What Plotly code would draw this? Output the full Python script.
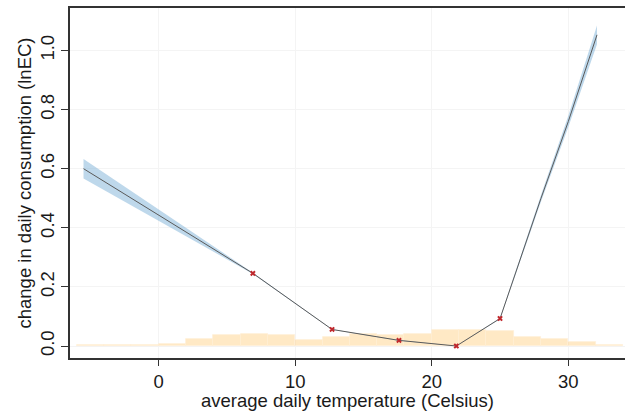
import plotly.graph_objects as go

# Response curve (temperature in Celsius -> change in lnEC)
curve_x = [-5.5, 0.0, 6.9, 12.7, 17.6, 21.8, 25.0, 28.0, 30.0, 32.1]
curve_y = [0.600, 0.443, 0.246, 0.056, 0.019, 0.0, 0.093, 0.50, 0.76, 1.053]
band_lo = [0.567, 0.425, 0.244, 0.055, 0.018, 0.0, 0.091, 0.489, 0.741, 1.021]
band_hi = [0.633, 0.461, 0.248, 0.057, 0.020, 0.0, 0.095, 0.511, 0.779, 1.085]

# Knots (red crosses)
knot_x = [6.9, 12.7, 17.6, 21.8, 25.0]
knot_y = [0.246, 0.056, 0.019, 0.0, 0.093]

# Temperature distribution histogram (2-degree bins from -6 to 34)
hist_centers = [-5, -3, -1, 1, 3, 5, 7, 9, 11, 13, 15, 17, 19, 21, 23, 25, 27, 29, 31, 33]
hist_heights = [0.004, 0.002, 0.002, 0.007, 0.024, 0.037, 0.040, 0.036, 0.022, 0.030,
                0.039, 0.037, 0.040, 0.053, 0.055, 0.052, 0.031, 0.023, 0.012, 0.004]

x_ticks = [0, 10, 20, 30]
y_ticks = [0.0, 0.2, 0.4, 0.6, 0.8, 1.0]
y_labels = ["0.0", "0.2", "0.4", "0.6", "0.8", "1.0"]

FONT = "Liberation Sans, Arial, sans-serif"
FS = 18.5
TXT = "#1a1a1a"

fig = go.Figure()

fig.add_trace(go.Bar(
    x=hist_centers, y=hist_heights, width=2,
    marker=dict(color="rgba(255,212,140,0.5)", line=dict(color="rgba(255,240,215,0.9)", width=0.8)),
    hoverinfo="skip", showlegend=False,
))

fig.add_trace(go.Scatter(
    x=curve_x + curve_x[::-1], y=band_hi + band_lo[::-1],
    fill="toself", fillcolor="rgba(125,178,216,0.5)",
    line=dict(width=0), mode="lines", hoverinfo="skip", showlegend=False,
))

fig.add_trace(go.Scatter(
    x=curve_x, y=curve_y, mode="lines",
    line=dict(color="#5a5a5a", width=1), showlegend=False,
))

fig.add_trace(go.Scatter(
    x=knot_x, y=knot_y, mode="markers",
    marker=dict(symbol="x", size=5, color="#c0282d"), showlegend=False,
))

fig.update_layout(
    width=625, height=411,
    margin=dict(l=70, r=0, t=8, b=53),
    plot_bgcolor="white", paper_bgcolor="white",
    font=dict(family=FONT, size=FS, color=TXT),
    bargap=0,
    xaxis=dict(
        range=[-6.49, 34.15], tickvals=x_ticks,
        showline=True, linecolor="#333333", linewidth=1.5, mirror=True,
        ticks="outside", ticklen=6, tickwidth=1.2, tickcolor="#333333",
        showgrid=True, gridcolor="#f4f4f4", gridwidth=1, zeroline=False,
        tickfont=dict(family=FONT, size=FS, color=TXT),
        title=dict(text="average daily temperature (Celsius)", standoff=3,
                   font=dict(family=FONT, size=FS, color=TXT)),
    ),
    yaxis=dict(
        range=[-0.0406, 1.1438], tickvals=y_ticks, ticktext=y_labels,
        tickangle=-90,
        showline=True, linecolor="#333333", linewidth=1.5, mirror=False,
        ticks="outside", ticklen=7, tickwidth=1.2, tickcolor="#333333",
        showgrid=True, gridcolor="#f4f4f4", gridwidth=1, zeroline=False,
        tickfont=dict(family=FONT, size=FS, color=TXT),
        title=dict(text="change in daily consumption (lnEC)", standoff=0,
                   font=dict(family=FONT, size=FS, color=TXT)),
    ),
)

fig.write_html("out.html")
